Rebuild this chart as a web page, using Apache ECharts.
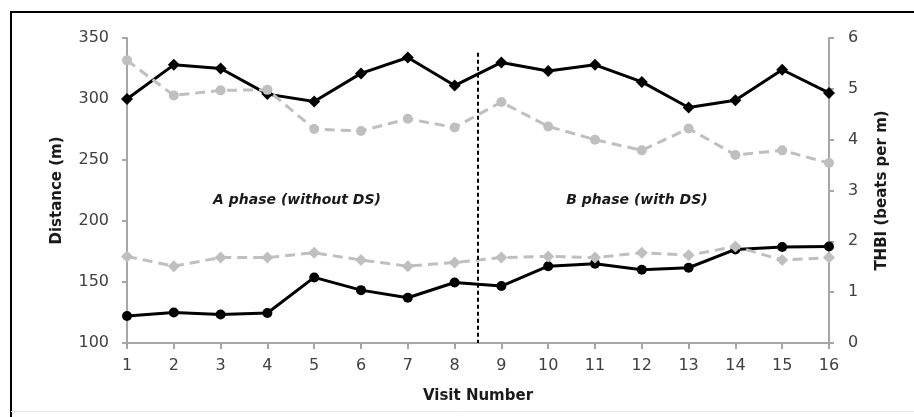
<!DOCTYPE html>
<html>
<head>
<meta charset="utf-8">
<script src="https://cdn.jsdelivr.net/npm/echarts@6/dist/echarts.min.js"></script>
<style>
  html, body { margin: 0; padding: 0; background: #fff; }
  #chart { width: 914px; height: 417px; }
</style>
</head>
<body>
<div id="chart"></div>
<script>
// Visit numbers
const visits = [1, 2, 3, 4, 5, 6, 7, 8, 9, 10, 11, 12, 13, 14, 15, 16];

// Distance (m), left axis
const distanceBlack = [300, 328, 325, 304, 298, 321, 334, 311, 330, 323, 328, 314, 293, 299, 324, 305];
const distanceGray  = [171, 163, 170, 170, 174, 168, 163, 166, 170, 171, 170, 174, 172, 179, 168, 170];

// THBI (beats per m), right axis
const thbiBlack = [0.53, 0.60, 0.56, 0.59, 1.29, 1.04, 0.89, 1.19, 1.12, 1.51, 1.56, 1.44, 1.48, 1.84, 1.89, 1.90];
const thbiGray  = [5.56, 4.87, 4.97, 4.98, 4.21, 4.17, 4.41, 4.24, 4.74, 4.26, 4.00, 3.79, 4.22, 3.70, 3.79, 3.54];

// Phase split between visits 8 and 9
const phaseSplit = 8.5;
const phaseLabels = ['A phase (without DS)', 'B phase (with DS)'];

const pairs = (vals) => visits.map((v, i) => [v, vals[i]]);

const FONT = '"DejaVu Sans", "Noto Sans", sans-serif';
const AXIS_GRAY = '#a6a6a6';
const LABEL_COLOR = '#404040';
const LIGHT = '#bfbfbf';

const chart = echarts.init(document.getElementById('chart'), null, { renderer: 'canvas' });

chart.setOption({
  animation: false,
  backgroundColor: '#ffffff',
  textStyle: { fontFamily: FONT },
  grid: { left: 127, right: 85, top: 38, bottom: 74, containLabel: false },
  xAxis: {
    type: 'value',
    min: 1, max: 16, interval: 1,
    name: 'Visit Number',
    nameLocation: 'middle',
    nameGap: 46,
    nameTextStyle: { fontFamily: FONT, fontWeight: 'bold', fontSize: 15, color: '#1a1a1a' },
    axisLine: { show: true, onZero: false, lineStyle: { color: AXIS_GRAY, width: 2 } },
    axisTick: { show: true, length: 6, lineStyle: { color: AXIS_GRAY, width: 2 } },
    axisLabel: { color: LABEL_COLOR, fontSize: 16, margin: 15, fontFamily: FONT },
    splitLine: { show: false }
  },
  yAxis: [
    {
      type: 'value',
      min: 100, max: 350, interval: 50,
      name: 'Distance (m)',
      nameLocation: 'middle',
      nameGap: 62,
      nameRotate: 90,
      nameTextStyle: { fontFamily: FONT, fontWeight: 'bold', fontSize: 15, color: '#1a1a1a' },
      axisLine: { show: true, lineStyle: { color: AXIS_GRAY, width: 2 } },
      axisTick: { show: true, length: 5, lineStyle: { color: AXIS_GRAY, width: 2 } },
      axisLabel: { color: LABEL_COLOR, fontSize: 16, margin: 18, fontFamily: FONT },
      splitLine: { show: false }
    },
    {
      type: 'value',
      min: 0, max: 6, interval: 1,
      position: 'right',
      name: 'THBI (beats per m)',
      nameLocation: 'middle',
      nameGap: 46,
      nameRotate: 90,
      nameTextStyle: { fontFamily: FONT, fontWeight: 'bold', fontSize: 15, color: '#1a1a1a' },
      axisLine: { show: true, lineStyle: { color: AXIS_GRAY, width: 2 } },
      axisTick: { show: true, length: 5, inside: false, lineStyle: { color: AXIS_GRAY, width: 2 } },
      axisLabel: { color: LABEL_COLOR, fontSize: 16, margin: 19, fontFamily: FONT },
      splitLine: { show: false }
    }
  ],
  series: [
    {
      name: 'Distance',
      type: 'line',
      yAxisIndex: 0,
      data: pairs(distanceBlack),
      symbol: 'diamond',
      symbolSize: 12,
      itemStyle: { color: '#000' },
      lineStyle: { color: '#000', width: 3 },
      z: 3,
      markLine: {
        silent: true,
        symbol: 'none',
        label: { show: false },
        lineStyle: { color: '#000', type: [4, 3], width: 2 },
        data: [[{ coord: [phaseSplit, 338] }, { coord: [phaseSplit, 100] }]]
      }
    },
    {
      name: 'THBI',
      type: 'line',
      yAxisIndex: 1,
      data: pairs(thbiBlack),
      symbol: 'circle',
      symbolSize: 10,
      itemStyle: { color: '#000' },
      lineStyle: { color: '#000', width: 3 },
      z: 3
    },
    {
      name: 'Distance (grey)',
      type: 'line',
      yAxisIndex: 0,
      data: pairs(distanceGray),
      symbol: 'diamond',
      symbolSize: 12,
      itemStyle: { color: LIGHT },
      lineStyle: { color: LIGHT, width: 3, type: [10, 6] },
      z: 4
    },
    {
      name: 'THBI (grey)',
      type: 'line',
      yAxisIndex: 1,
      data: pairs(thbiGray),
      symbol: 'circle',
      symbolSize: 10,
      itemStyle: { color: LIGHT },
      lineStyle: { color: LIGHT, width: 3, type: [10, 6] },
      z: 4
    }
  ],
  graphic: [
    // frame edges
    { type: 'line', shape: { x1: 10, y1: 12, x2: 914, y2: 12 }, style: { stroke: '#000', lineWidth: 2 }, z: 10 },
    { type: 'line', shape: { x1: 11, y1: 12, x2: 11, y2: 417 }, style: { stroke: '#000', lineWidth: 2 }, z: 10 },
    { type: 'line', shape: { x1: 11, y1: 411.5, x2: 914, y2: 411.5 }, style: { stroke: '#e6e6e6', lineWidth: 1 }, z: 10 },
    // phase captions
    {
      type: 'text', x: 297, y: 200, z: 10,
      style: { text: phaseLabels[0], fill: '#1a1a1a', font: 'italic bold 14px ' + FONT, textAlign: 'center', textVerticalAlign: 'middle' }
    },
    {
      type: 'text', x: 637, y: 200, z: 10,
      style: { text: phaseLabels[1], fill: '#1a1a1a', font: 'italic bold 14px ' + FONT, textAlign: 'center', textVerticalAlign: 'middle' }
    }
  ]
});
</script>
</body>
</html>
